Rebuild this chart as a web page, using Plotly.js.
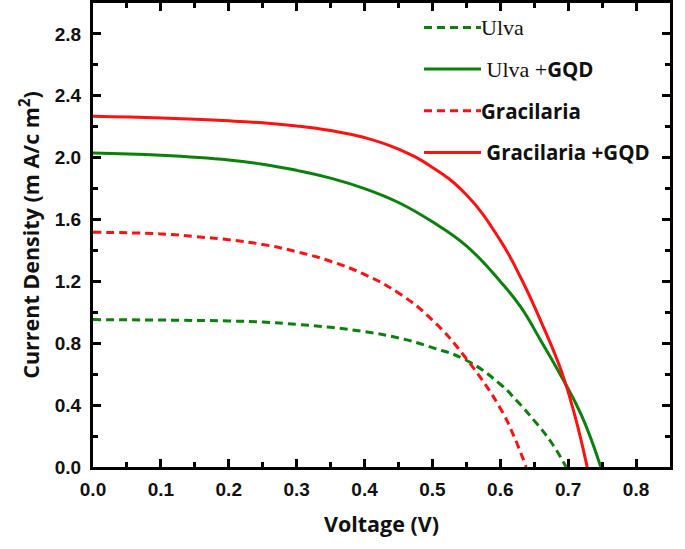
<!DOCTYPE html>
<html>
<head>
<meta charset="utf-8">
<script src="https://cdn.plot.ly/plotly-3.0.1.min.js"></script>
<style>html,body{margin:0;padding:0;background:#fff;}#chart{width:685px;height:549px;}</style>
</head>
<body>
<div id="chart"></div>
<script>
// Ulva (dashed green)
const ulvaV = [0, 0.1, 0.2, 0.25, 0.3, 0.35, 0.4, 0.45, 0.5, 0.55, 0.6, 0.625, 0.65, 0.675, 0.697];
const ulvaJ = [0.953, 0.95, 0.944, 0.937, 0.922, 0.903, 0.875, 0.835, 0.772, 0.69, 0.535, 0.425, 0.30, 0.16, 0.0];
// Ulva + GQD (solid green)
const ulvaGqdV = [0, 0.1, 0.2, 0.25, 0.3, 0.35, 0.4, 0.45, 0.5, 0.55, 0.6, 0.63, 0.66, 0.69, 0.72, 0.748];
const ulvaGqdJ = [2.03, 2.015, 1.985, 1.958, 1.918, 1.868, 1.80, 1.71, 1.585, 1.43, 1.20, 1.035, 0.815, 0.585, 0.33, 0.0];
// Gracilaria (dashed red)
const gracV = [0, 0.1, 0.15, 0.2, 0.25, 0.3, 0.35, 0.4, 0.45, 0.5, 0.55, 0.6, 0.62, 0.638];
const gracJ = [1.518, 1.507, 1.49, 1.469, 1.439, 1.392, 1.33, 1.245, 1.125, 0.95, 0.70, 0.38, 0.20, 0.0];
// Gracilaria + GQD (solid red)
const gracGqdV = [0, 0.1, 0.2, 0.25, 0.3, 0.35, 0.4, 0.45, 0.5, 0.55, 0.6, 0.63, 0.66, 0.69, 0.71, 0.728];
const gracGqdJ = [2.267, 2.256, 2.238, 2.225, 2.205, 2.175, 2.13, 2.055, 1.937, 1.76, 1.465, 1.225, 0.94, 0.62, 0.33, 0.0];

const serif = "font-family:'Liberation Serif';font-weight:normal;font-size:22px";
const seriesNames = [
  '<span style="' + serif + '">Ulva</span>',
  '<span style="' + serif + '">\u00A0Ulva +</span>GQD',
  'Gracilaria',
  '\u00A0Gracilaria +GQD'
];
const green = '#0a820a';
const red = '#ff1010';

function tr(x, y, name, color, dash, grp) {
  return {x: x, y: y, name: name, type: 'scatter', mode: 'lines', legendgroup: grp,
    line: {color: color, width: 3, dash: dash, shape: 'spline', smoothing: 1.3}};
}
const data = [
  tr(ulvaV, ulvaJ, seriesNames[0], green, '8px,5px', 'a'),
  tr(ulvaGqdV, ulvaGqdJ, seriesNames[1], green, 'solid', 'b'),
  tr(gracV, gracJ, seriesNames[2], red, '8px,5px', 'c'),
  tr(gracGqdV, gracGqdJ, seriesNames[3], red, 'solid', 'd')
];

const tickFont = {family: 'Liberation Sans, Arial, sans-serif', size: 19, color: '#111', weight: 'bold'};
const titleFont = {family: 'Open Sans, sans-serif', size: 21.5, color: '#111', weight: 'bold'};
const axisCommon = {
  showgrid: false, zeroline: false, showline: true, linecolor: '#000', linewidth: 3,
  mirror: 'ticks', ticks: 'inside', ticklen: 8, tickwidth: 3, tickcolor: '#000',
  tickfont: tickFont
};
const layout = {
  width: 685, height: 549,
  margin: {l: 93, r: 15, t: 3, b: 82},
  paper_bgcolor: '#fff', plot_bgcolor: '#fff',
  showlegend: true,
  legend: {x: 0.565, y: 0.99, xanchor: 'left', yanchor: 'top', bgcolor: 'rgba(0,0,0,0)',
    tracegroupgap: 12, traceorder: 'grouped', itemwidth: 52,
    font: {family: 'Open Sans, sans-serif', size: 20.5, color: '#111', weight: 'bold'}},
  xaxis: Object.assign({}, axisCommon, {
    range: [0, 0.85], dtick: 0.1, tickformat: '.1f', ticklabelstandoff: 3,
    minor: {dtick: 0.05, ticks: 'inside', ticklen: 5, tickwidth: 3, tickcolor: '#000'},
    title: {text: 'Voltage (V)', font: titleFont, standoff: 19}
  }),
  yaxis: Object.assign({}, axisCommon, {
    range: [0, 3.0], dtick: 0.4, tickformat: '.1f', ticklabelstandoff: 5,
    minor: {dtick: 0.2, ticks: 'inside', ticklen: 5, tickwidth: 3, tickcolor: '#000'},
    title: {text: 'Current Density (m A/c m<sup>2</sup>)', font: titleFont, standoff: 10}
  })
};
Plotly.newPlot('chart', data, layout, {displayModeBar: false, staticPlot: true}).then(function (gd) {
  // lengthen the legend sample lines to match the reference key
  gd.querySelectorAll('.legend .legendlines path').forEach(function (p) {
    p.setAttribute('d', 'M5,0h57');
  });
});
</script>
</body>
</html>
